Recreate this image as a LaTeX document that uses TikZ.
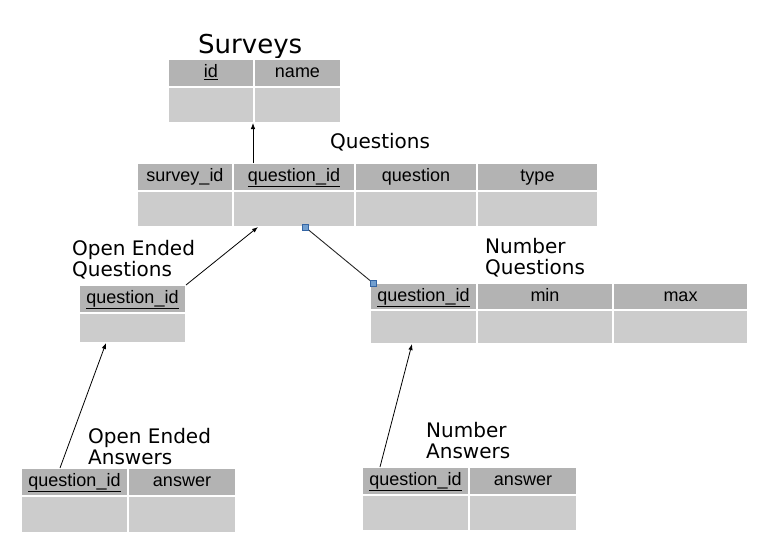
\documentclass[tikz,border=0pt]{standalone}
\usepackage{fontspec}
\setmainfont{Liberation Sans}
\newfontfamily\titlefont{DejaVu Sans}
\usetikzlibrary{arrows.meta}
\definecolor{hdr}{HTML}{B3B3B3}
\definecolor{bdy}{HTML}{CCCCCC}
\definecolor{mkfill}{HTML}{729FCF}
\definecolor{mkdraw}{HTML}{3465A4}
\newcommand\tcell[7]{\node[cellst,fill=#6,minimum width={(#4-#2)*1pt},minimum height={(#5-#3)*1pt}] (#1) at (#2,#3) {#7};}
\begin{document}
\begin{tikzpicture}[x=1pt,y=-1pt,
  cellst/.style={draw=white,line width=1.2pt,anchor=north west,inner sep=0pt,outer sep=0pt,text height=13pt,text depth=4pt,font=\fontsize{18}{20}\selectfont},
  ttl/.style={anchor=base west,inner sep=0pt,align=left,font=\titlefont\fontsize{20}{21}\selectfont},
  arr/.style={draw=black,line width=0.8pt,-{Latex[length=6pt,width=4.5pt]}},
  lnk/.style={draw=black!85,line width=0.9pt},
  sq/.style={draw=mkdraw,fill=mkfill,line width=0.8pt,minimum size=6pt,inner sep=0pt}]
\useasboundingbox (0,0) rectangle (761,535);
% Surveys
\node[ttl,font=\titlefont\fontsize{26}{28}\selectfont] (tS) at (198,54) {Surveys};
\tcell{sh1}{168}{59}{254}{87}{hdr}{\underline{id}}
\tcell{sh2}{254}{59}{341}{87}{hdr}{name}
\tcell{sb1}{168}{87}{254}{123}{bdy}{}
\tcell{sb2}{254}{87}{341}{123}{bdy}{}
% Questions
\node[ttl] (tQ) at (330,148) {Questions};
\tcell{qh1}{137}{163}{233}{191}{hdr}{survey\_id}
\tcell{qh2}{233}{163}{355}{191}{hdr}{\underline{question\_id}}
\tcell{qh3}{355}{163}{477}{191}{hdr}{question}
\tcell{qh4}{477}{163}{598}{191}{hdr}{type}
\tcell{qb1}{137}{191}{233}{227}{bdy}{}
\tcell{qb2}{233}{191}{355}{227}{bdy}{}
\tcell{qb3}{355}{191}{477}{227}{bdy}{}
\tcell{qb4}{477}{191}{598}{227}{bdy}{}
% Open Ended Questions
\node[ttl] (tOQ) at (72,276) {Open Ended\\Questions};
\tcell{oh1}{79}{285}{186}{313}{hdr}{\underline{question\_id}}
\tcell{ob1}{79}{313}{186}{343}{bdy}{}
% Number Questions
\node[ttl] (tNQ) at (485,274) {Number\\Questions};
\tcell{nh1}{370}{283}{477}{310}{hdr}{\underline{question\_id}}
\tcell{nh2}{477}{283}{613}{310}{hdr}{min}
\tcell{nh3}{613}{283}{748}{310}{hdr}{max}
\tcell{nb1}{370}{310}{477}{344}{bdy}{}
\tcell{nb2}{477}{310}{613}{344}{bdy}{}
\tcell{nb3}{613}{310}{748}{344}{bdy}{}
% Open Ended Answers
\node[ttl] (tOA) at (88,464) {Open Ended\\Answers};
\tcell{ah1}{21}{468}{128}{496}{hdr}{\underline{question\_id}}
\tcell{ah2}{128}{468}{236}{496}{hdr}{answer}
\tcell{ab1}{21}{496}{128}{533}{bdy}{}
\tcell{ab2}{128}{496}{236}{533}{bdy}{}
% Number Answers
\node[ttl] (tNA) at (426,458) {Number\\Answers};
\tcell{mh1}{362}{467}{469}{495}{hdr}{\underline{question\_id}}
\tcell{mh2}{469}{467}{577}{495}{hdr}{answer}
\tcell{mb1}{362}{495}{469}{531}{bdy}{}
\tcell{mb2}{469}{495}{577}{531}{bdy}{}
% connectors
\coordinate (qtop) at ([xshift=20pt]qh2.north west);
\draw[arr] (qtop) -- (qtop |- sb1.south);
\draw[arr] (oh1.north east) -- ([xshift=25pt]qb2.south west);
\draw[lnk] ([xshift=72pt]qb2.south west) -- ([xshift=3pt]nh1.north west);
\node[sq] (m1) at ([xshift=72pt]qb2.south west) {};
\node[sq] (m2) at ([xshift=3pt]nh1.north west) {};
\draw[arr] ([xshift=39pt]ah1.north west) -- ([xshift=27pt]ob1.south west);
\draw[arr] ([xshift=18pt]mh1.north west) -- ([xshift=42pt]nb1.south west);
\end{tikzpicture}
\end{document}
